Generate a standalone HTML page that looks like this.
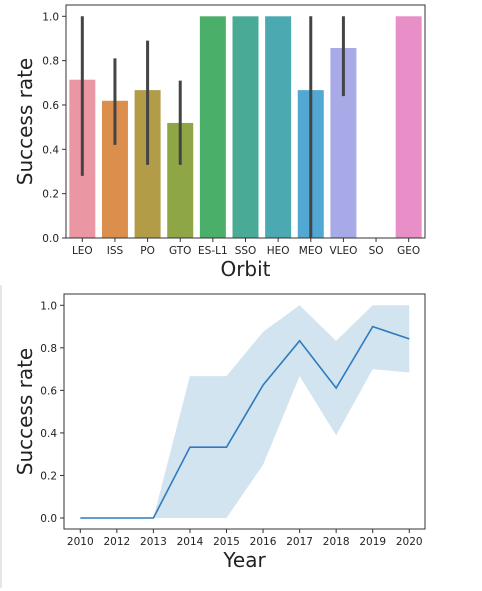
<!DOCTYPE html>
<html><head><meta charset="utf-8"><style>
html,body{margin:0;padding:0;background:#fff;width:482px;height:591px;overflow:hidden}
svg text{font-family:"DejaVu Sans","Liberation Sans",sans-serif;fill:#222}
</style></head><body>
<svg width="482" height="591" id="svg">
<line x1="1" y1="285" x2="1" y2="588" stroke="#e6e6e6" stroke-width="2"/>
</svg>
<script>
const orbits=["LEO","ISS","PO","GTO","ES-L1","SSO","HEO","MEO","VLEO","SO","GEO"];
const orbitRates=[0.714,0.619,0.667,0.519,1,1,1,0.667,0.857,0,1];
const orbitLow=[0.28,0.42,0.33,0.33,1,1,1,0,0.64,0,1];
const orbitHigh=[1,0.81,0.89,0.71,1,1,1,1,1,0,1];
const orbitColors=["#ea96a3","#dc8f4d","#b29c47","#8fa646","#4aaf68","#49ab95","#4aa9b1","#50a8d3","#a8aae8","#d87fe0","#e88fc8"];
const years=["2010","2012","2013","2014","2015","2016","2017","2018","2019","2020"];
const yearRates=[0,0,0,0.333,0.333,0.625,0.833,0.611,0.9,0.842];
const yearLow=[0,0,0,0,0,0.25,0.667,0.389,0.7,0.684];
const yearHigh=[0,0,0,0.667,0.667,0.875,1,0.833,1,1];
const yTicks=[0,0.2,0.4,0.6,0.8,1.0];
const NS="http://www.w3.org/2000/svg",svg=document.getElementById('svg');
function mk(t,a,p){const e=document.createElementNS(NS,t);for(const k in a)e.setAttribute(k,a[k]);(p||svg).appendChild(e);return e;}
function axes(L,R,T,B,y0,y1,cats,xpos,ylab,xlab,name){
  const g=mk('g',{});
  
  
  const ys=v=>y0+(y1-y0)*v;
  yTicks.forEach(v=>{
    mk('line',{x1:L-4,x2:L,y1:ys(v),y2:ys(v),stroke:'#333'},g);
    const t=mk('text',{x:L-7,y:ys(v)+4,'text-anchor':'end','font-size':'10.5'},g);t.textContent=v.toFixed(1);
    
    
  });
  cats.forEach((c,i)=>{
    const x=xpos(i);
    mk('line',{x1:x,x2:x,y1:B,y2:B+4,stroke:'#333'},g);
    const t=mk('text',{x:x,y:B+16,'text-anchor':'middle','font-size':'10.5'},g);t.textContent=c;
    
    
  });
  const yl=mk('text',{x:0,y:0,'text-anchor':'middle','font-size':'20',transform:`translate(${32},${(T+B)/2}) rotate(-90)`},g);yl.textContent=ylab;
  
  
  const xl=mk('text',{x:(L+R)/2,y:B+38,'text-anchor':'middle','font-size':'20'},g);xl.textContent=xlab;
  
  
  return {g,ys};
}
// top bar chart
{
  const L=66,R=425,T=5,B=238,y0=238,y1=16.3;
  const xs=i=>L+(R-L)/orbits.length*(i+0.5);
  const {g,ys}=axes(L,R,T,B,y0,y1,orbits,xs,"Success rate","Orbit","orbit-bar-chart");
  orbitRates.forEach((v,i)=>{
    const r=mk('rect',{x:xs(i)-13,y:ys(v),width:26,height:y0-ys(v),fill:orbitColors[i]},g);
    
    
    if(orbitHigh[i]>orbitLow[i]){
      const e=mk('line',{x1:xs(i),x2:xs(i),y1:ys(orbitLow[i]),y2:ys(orbitHigh[i]),stroke:'#444','stroke-width':3},g);
      
      
    }
  });
  mk('rect',{x:L,y:T,width:R-L,height:B-T,fill:'none',stroke:'#333','stroke-width':1},g);
}
// bottom line chart
{
  const L=64,R=425,T=294,B=529,y0=518,y1=305.3;
  const xs=i=>80.3+i*36.55;
  const {g,ys}=axes(L,R,T,B,y0,y1,years,xs,"Success rate","Year","year-line-chart");
  let d='';
  yearHigh.forEach((v,i)=>d+=(i?'L':'M')+xs(i)+','+ys(v));
  for(let i=years.length-1;i>=0;i--)d+='L'+xs(i)+','+ys(yearLow[i]);
  const band=mk('path',{d:d+'Z',fill:'rgba(31,119,180,0.2)'},g);
  
  
  const pl=mk('polyline',{points:yearRates.map((v,i)=>xs(i)+','+ys(v)).join(' '),fill:'none',stroke:'#2f7bbb','stroke-width':1.6},g);
  
  
  mk('rect',{x:L,y:T,width:R-L,height:B-T,fill:'none',stroke:'#333','stroke-width':1},g);
}
</script>
</body></html>
